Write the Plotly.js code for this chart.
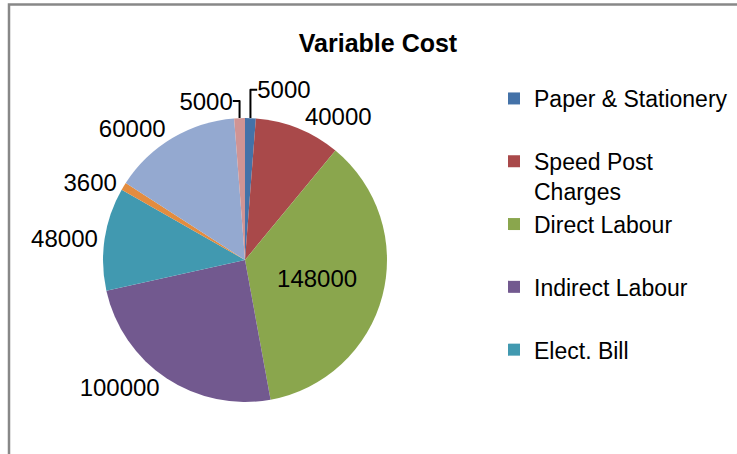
<!DOCTYPE html>
<html>
<head>
<meta charset="utf-8">
<script src="https://cdn.plot.ly/plotly-3.0.1.min.js"></script>
<style>html,body{margin:0;padding:0;background:#fff;}#chart{width:737px;height:454px;}</style>
</head>
<body>
<div id="chart"></div>
<script>
// Data
var sliceLabels = ["Paper & Stationery", "Speed Post Charges", "Direct Labour", "Indirect Labour", "Elect. Bill", "Item 6", "Item 7", "Item 8"];
var sliceValues = [5000, 40000, 148000, 100000, 48000, 3600, 60000, 5000];
var sliceColors = ["#4472A8", "#A9494A", "#8AA64D", "#72598F", "#4199B0", "#E38C3F", "#94A9D0", "#D09494"];
var legendLabels = ["Paper & Stationery<br>\u00a0", "Speed Post<br>Charges", "Direct Labour<br>\u00a0", "Indirect Labour<br>\u00a0", "Elect. Bill<br>\u00a0"];
var textPositions = ["outside", "outside", "inside", "outside", "outside", "outside", "outside", "outside"];

var W = 737, H = 454;
var FONT = "'Liberation Sans', Arial, sans-serif";

var mainPie = {
  type: "pie",
  labels: sliceLabels,
  values: sliceValues,
  sort: false,
  direction: "clockwise",
  rotation: 0,
  marker: {colors: sliceColors, line: {width: 0}},
  texttemplate: "%{value:d}",
  textposition: textPositions,
  insidetextorientation: "horizontal",
  textfont: {family: FONT, size: 24, color: "#000"},
  insidetextfont: {family: FONT, size: 24, color: "#000"},
  outsidetextfont: {family: FONT, size: 24, color: "#000"},
  automargin: false,
  showlegend: false,
  hoverinfo: "label+value+percent",
  domain: {x: [103 / W, 387 / W], y: [1 - 402 / H, 1 - 118 / H]}
};

// Legend-only trace (first five categories, as shown in the reference)
var legendPie = {
  type: "pie",
  labels: legendLabels,
  values: sliceValues.slice(0, 5),
  sort: false,
  marker: {colors: sliceColors.slice(0, 5), line: {width: 0}},
  textinfo: "none",
  hoverinfo: "skip",
  showlegend: true,
  domain: {x: [0.9995, 1], y: [0, 0.0005]}
};

var layout = {
  width: W, height: H,
  margin: {l: 0, r: 0, t: 0, b: 0, autoexpand: false},
  paper_bgcolor: "#fff",
  title: {
    text: "<b>Variable Cost</b>",
    font: {family: FONT, size: 25, color: "#000"},
    x: 378 / W, xanchor: "center", xref: "paper",
    y: 1 - 43 / H, yanchor: "middle", yref: "paper"
  },
  legend: {
    x: 494 / W, xanchor: "left",
    y: 1 - 77 / H, yanchor: "top",
    font: {family: FONT, size: 23, color: "#000"},
    valign: "top",
    itemclick: false,
    bgcolor: "rgba(0,0,0,0)"
  },
  shapes: [{
    type: "rect", xref: "paper", yref: "paper",
    x0: 9 / W, x1: 2, y0: -1, y1: 1 - 4.5 / H,
    line: {color: "#888888", width: 2.5}, fillcolor: "rgba(0,0,0,0)", layer: "below"
  }]
};

Plotly.newPlot("chart", [mainPie, legendPie], layout, {displayModeBar: false, staticPlot: true});
</script>
</body>
</html>
